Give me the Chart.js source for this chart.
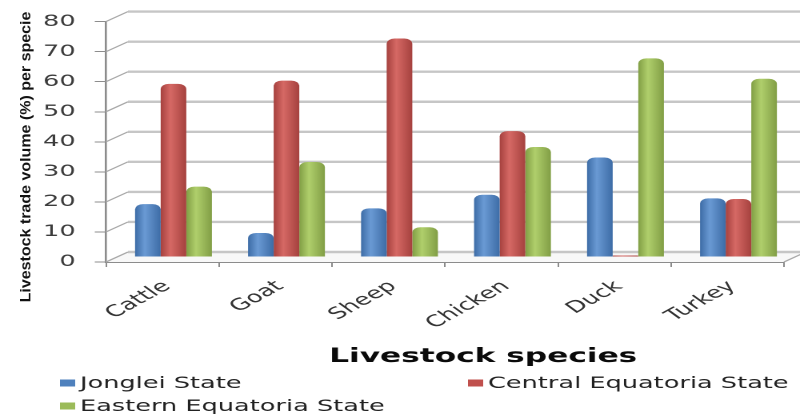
<!DOCTYPE html>
<html>
<head>
<meta charset="utf-8">
<script src="https://cdn.jsdelivr.net/npm/chart.js@4"></script>
<style>
  html, body { margin: 0; padding: 0; background: #ffffff; overflow: hidden; }
  canvas { display: block; }
</style>
</head>
<body>
<canvas id="chart" width="500" height="414" style="width:800px;height:414px"></canvas>
<script>
// ---- data ----
const species = ['Cattle', 'Goat', 'Sheep', 'Chicken', 'Duck', 'Turkey'];
const seriesNames = ['Jonglei State', 'Central Equatoria State', 'Eastern Equatoria State'];
const jonglei = [17.6, 8.0, 16.2, 20.7, 33.1, 19.5];
const centralEquatoria = [57.6, 58.7, 72.7, 41.9, 0.5, 19.3];
const easternEquatoria = [23.4, 31.6, 9.9, 36.6, 66.1, 59.3];
const yTickValues = [0, 10, 20, 30, 40, 50, 60, 70, 80];
const yTitle = 'Livestock trade volume (%) per specie';
const xTitle = 'Livestock species';

// ---- look ----
const STRETCH = 800 / 500;          // canvas is drawn 500 wide and shown 800 wide
const DEPTH_X = 13.75, DEPTH_Y = -10; // offset of the back wall
const CAT_PCT = 0.68;
const palette = [
  { base: '#4F81BD', light: '#6a9ad4', dark: '#3d6ca6' },
  { base: '#C0504D', light: '#d66965', dark: '#a5413e' },
  { base: '#9BBB59', light: '#b0cf6c', dark: '#819e45' }
];

// horizontal gradient that gives each column a rounded, cylinder-like shading
function cylinderFill(p) {
  return (c) => {
    if (c.type !== 'data') return p.base;
    const chart = c.chart;
    const xs = chart.scales.x;
    if (!xs || !xs.ticks || !xs.ticks.length) return p.base;
    const n = chart.data.datasets.length;
    const cw = xs.width / xs.ticks.length;
    const bw = cw * CAT_PCT / n;
    const left = xs.getPixelForValue(c.dataIndex) - cw * CAT_PCT / 2 + c.datasetIndex * bw;
    if (!isFinite(left)) return p.base;
    const g = chart.ctx.createLinearGradient(left, 0, left + bw, 0);
    g.addColorStop(0, p.dark);
    g.addColorStop(0.38, p.light);
    g.addColorStop(1, p.dark);
    return g;
  };
}

// back wall, floor edges and the depth shift for the columns
const frame3d = {
  id: 'frame3d',
  beforeDatasetsDraw(chart) {
    const { ctx, chartArea: a, scales: { y } } = chart;
    ctx.save();
    const y0 = y.getPixelForValue(0);
    // floor
    ctx.fillStyle = '#f8f8f8';
    ctx.beginPath();
    ctx.moveTo(a.left, y0);
    ctx.lineTo(a.left + DEPTH_X, y0 + DEPTH_Y);
    ctx.lineTo(a.right + DEPTH_X, y0 + DEPTH_Y);
    ctx.lineTo(a.right, y0);
    ctx.closePath();
    ctx.fill();
    // back wall gridlines
    ctx.strokeStyle = '#c6c6c6';
    ctx.lineWidth = 2.4;
    y.ticks.forEach(t => {
      const py = y.getPixelForValue(t.value) + DEPTH_Y;
      ctx.beginPath();
      ctx.moveTo(a.left + DEPTH_X, py);
      ctx.lineTo(a.right + DEPTH_X + 40, py);
      ctx.stroke();
    });
    // side wall slants
    ctx.strokeStyle = '#a8a8a8';
    ctx.lineWidth = 1.1;
    y.ticks.forEach(t => {
      const py = y.getPixelForValue(t.value);
      ctx.beginPath();
      ctx.moveTo(a.left, py);
      ctx.lineTo(a.left + DEPTH_X, py + DEPTH_Y);
      ctx.stroke();
    });
    ctx.beginPath();
    ctx.moveTo(a.right, y0);
    ctx.lineTo(a.right + DEPTH_X, y0 + DEPTH_Y);
    ctx.stroke();
    ctx.restore();
    ctx.save();
    ctx.translate(DEPTH_X / 2, DEPTH_Y / 2);
  },
  afterDatasetsDraw(chart) {
    chart.ctx.restore();
  }
};

// axis titles and the legend block underneath the chart
const annotations = {
  id: 'annotations',
  afterDraw(chart) {
    const { ctx } = chart;
    ctx.save();
    // vertical axis title, drawn at natural proportions
    ctx.fillStyle = '#111111';
    ctx.font = 'bold 16px "Liberation Sans", Arial, sans-serif';
    ctx.textAlign = 'center';
    ctx.textBaseline = 'middle';
    ctx.translate(16.5, 157);
    ctx.scale(1 / STRETCH, 1);
    ctx.rotate(-Math.PI / 2);
    ctx.scale(1, 0.88);
    ctx.fillText(yTitle, 0, 0);
    ctx.restore();

    ctx.save();
    ctx.fillStyle = '#0a0a0a';
    ctx.font = 'bold 19.5px "DejaVu Sans", sans-serif';
    ctx.textAlign = 'center';
    ctx.textBaseline = 'middle';
    ctx.fillText(xTitle, 302, 357);

    // legend
    const spots = [[37.5, 383], [292.5, 383], [37.5, 406]];
    ctx.font = '16px "DejaVu Sans", sans-serif';
    ctx.textAlign = 'left';
    chart.data.datasets.forEach((ds, i) => {
      const [lx, ly] = spots[i];
      ctx.fillStyle = palette[i].base;
      ctx.fillRect(lx, ly - 3.5, 9.5, 7);
      ctx.fillStyle = '#222222';
      ctx.fillText(ds.label, lx + 12.5, ly + 1);
    });
    ctx.restore();
  }
};

const datasets = [jonglei, centralEquatoria, easternEquatoria].map((vals, i) => ({
  label: seriesNames[i],
  data: vals,
  backgroundColor: cylinderFill(palette[i]),
  borderWidth: 0,
  borderSkipped: 'start',
  borderRadius: { topLeft: 5, topRight: 5, bottomLeft: 0, bottomRight: 0 },
  barPercentage: 1.0,
  categoryPercentage: CAT_PCT
}));

new Chart(document.getElementById('chart'), {
  type: 'bar',
  data: { labels: species, datasets },
  options: {
    responsive: false,
    devicePixelRatio: 2,
    animation: false,
    events: [],
    layout: { padding: { top: 20, right: 10, bottom: 0, left: 0 } },
    plugins: {
      legend: { display: false },
      tooltip: { enabled: false },
      title: { display: false }
    },
    scales: {
      x: {
        grid: {
          display: true,
          offset: true,
          drawOnChartArea: false,
          drawTicks: true,
          tickLength: 5,
          color: '#8c8c8c',
          lineWidth: 1
        },
        border: { display: true, color: '#8c8c8c', width: 1.5 },
        ticks: {
          minRotation: 41,
          maxRotation: 41,
          autoSkip: false,
          padding: 10,
          labelOffset: 3,
          color: '#333333',
          font: { family: '"DejaVu Sans", sans-serif', size: 16 }
        },
        afterFit(scale) { scale.height = 152; }
      },
      y: {
        min: 0,
        max: 80,
        afterBuildTicks(scale) { scale.ticks = yTickValues.map(v => ({ value: v })); },
        grid: {
          display: true,
          drawOnChartArea: false,
          drawTicks: true,
          tickLength: 7,
          color: '#8c8c8c',
          lineWidth: 1
        },
        border: { display: true, color: '#8c8c8c', width: 1.3 },
        ticks: {
          padding: 12,
          color: '#3c3c3c',
          font: { family: '"DejaVu Sans", sans-serif', size: 16 }
        },
        afterFit(scale) { scale.width = 66.25; }
      }
    }
  },
  plugins: [frame3d, annotations]
});
</script>
</body>
</html>
